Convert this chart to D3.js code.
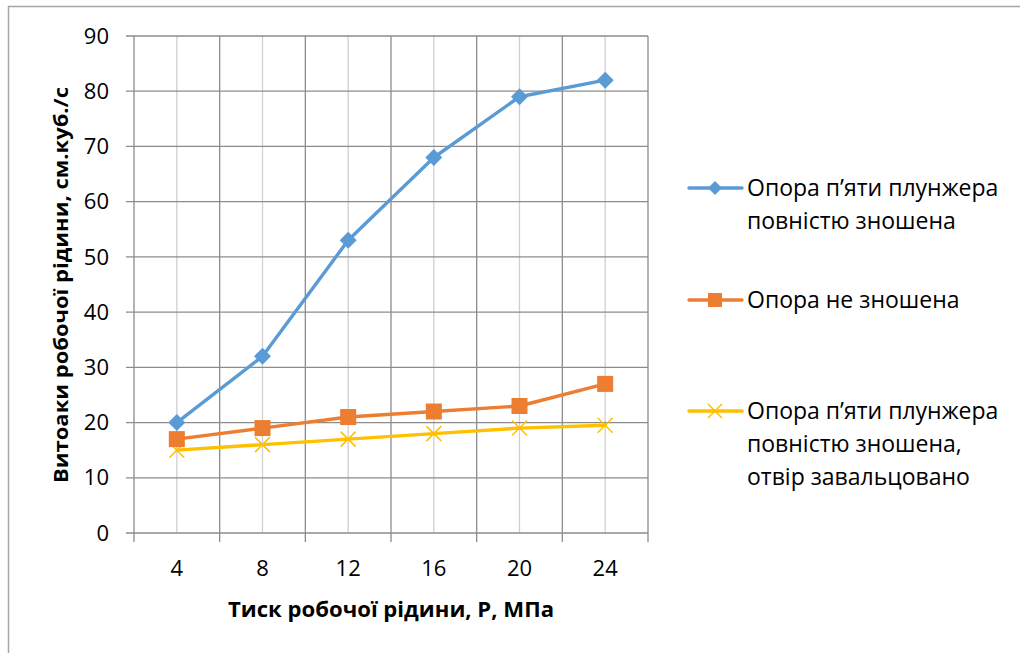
<!DOCTYPE html>
<html><head><meta charset="utf-8">
<script src="https://cdn.jsdelivr.net/npm/d3@7"></script>
<style>html,body{margin:0;padding:0;background:#fff}svg{display:block}</style>
</head><body>
<script>
const categories = ["4","8","12","16","20","24"];
const seriesNames = [
  ["Опора п’яти плунжера","повністю зношена"],
  ["Опора не зношена"],
  ["Опора п’яти плунжера","повністю зношена,","отвір завальцовано"]
];
const worn = [20, 32, 53, 68, 79, 82];
const notWorn = [17, 19, 21, 22, 23, 27];
const rolled = [15, 16, 17, 18, 19, 19.5];
const yTicks = [0,10,20,30,40,50,60,70,80,90];
const xTitle = "Тиск робочої рідини, Р, МПа";
const yTitle = "Витоаки робочої рідини, см.куб./с";
const colors = ["#5B9BD5","#ED7D31","#FFC000"];
const markers = ["diamond","square","x"];
const series = [worn, notWorn, rolled];

const W=1020,H=653;
const font = "'Open Sans', sans-serif";
const svg = d3.select("body").append("svg").attr("width",W).attr("height",H);
svg.append("rect").attr("x",8.5).attr("y",6.5).attr("width",W).attr("height",H).attr("fill","#fff").attr("stroke","#a6a6a6").attr("stroke-width",1.5);

const L=134,R=648,T=36,B=533;
const x = d3.scaleBand().domain(categories).range([L,R]).padding(0);
const y = d3.scaleLinear().domain([0,90]).range([B,T]);

const g = svg.append("g");
g.selectAll(".vminor").data(categories).enter().append("line")
  .attr("x1",d=>x(d)+x.bandwidth()/2).attr("x2",d=>x(d)+x.bandwidth()/2)
  .attr("y1",T).attr("y2",B).attr("stroke","#d0d0d0").attr("stroke-width",1.3);
g.selectAll(".hgrid").data(yTicks.slice(1)).enter().append("line")
  .attr("x1",L-8).attr("x2",R).attr("y1",d=>y(d)).attr("y2",d=>y(d))
  .attr("stroke","#8c8c8c").attr("stroke-width",1.3);
const bounds = categories.map(d=>x(d)).concat([R]);
g.selectAll(".vmajor").data(bounds).enter().append("line")
  .attr("x1",d=>d).attr("x2",d=>d).attr("y1",T).attr("y2",B+9)
  .attr("stroke","#8c8c8c").attr("stroke-width",1.3);
g.append("line").attr("x1",L-8).attr("x2",R).attr("y1",B).attr("y2",B).attr("stroke","#8c8c8c").attr("stroke-width",1.3);

svg.append("g").selectAll("text").data(yTicks).enter().append("text")
  .attr("x",109).attr("y",d=>y(d)).attr("dy","0.35em").attr("text-anchor","end")
  .attr("font-family",font).attr("font-size",22).attr("fill","#000").text(d=>d);
svg.append("g").selectAll("text").data(categories).enter().append("text")
  .attr("x",d=>x(d)+x.bandwidth()/2).attr("y",568).attr("dy","0.35em").attr("text-anchor","middle")
  .attr("font-family",font).attr("font-size",22).attr("fill","#000").text(d=>d);

svg.append("text").attr("x",(L+R)/2).attr("y",610).attr("dy","0.35em").attr("text-anchor","middle")
  .attr("font-family",font).attr("font-weight","bold").attr("font-size",21)
  .attr("textLength",326).attr("lengthAdjust","spacingAndGlyphs").text(xTitle);
svg.append("text").attr("transform",`translate(61,${(87+483)/2}) rotate(-90)`).attr("dy","0.35em").attr("text-anchor","middle")
  .attr("font-family",font).attr("font-weight","bold").attr("font-size",20)
  .attr("textLength",396).attr("lengthAdjust","spacingAndGlyphs").text(yTitle);

function drawMarker(sel, type, color, s){
  if(type==="diamond"){
    sel.append("path").attr("d",`M0,${-s}L${s},0L0,${s}L${-s},0Z`).attr("fill",color);
  } else if(type==="square"){
    sel.append("rect").attr("x",-s).attr("y",-s).attr("width",2*s).attr("height",2*s).attr("fill",color);
  } else {
    sel.append("path").attr("d",`M${-s},${-s}L${s},${s}M${-s},${s}L${s},${-s}`).attr("stroke",color).attr("stroke-width",1.5).attr("fill","none");
  }
}

const line = d3.line().x((d,i)=>x(categories[i])+x.bandwidth()/2).y(d=>y(d));
[2,1,0].forEach(si=>{
  const data=series[si];
  svg.append("path").datum(data).attr("d",line).attr("fill","none").attr("stroke",colors[si]).attr("stroke-width",3.4).attr("stroke-linejoin","round").attr("stroke-linecap","round");
  data.forEach((v,i)=>{
    const m=svg.append("g").attr("transform",`translate(${x(categories[i])+x.bandwidth()/2},${y(v)})`);
    drawMarker(m,markers[si],colors[si], si===0?8.5:(si===1?8:7.5));
  });
});

const legY=[188,300,411];
const lh=33;
seriesNames.forEach((names,si)=>{
  const lg=svg.append("g").attr("transform",`translate(0,${legY[si]})`);
  lg.append("line").attr("x1",689).attr("x2",742).attr("y1",0).attr("y2",0).attr("stroke",colors[si]).attr("stroke-width",3.4).attr("stroke-linecap","round");
  const m=lg.append("g").attr("transform","translate(715,0)");
  drawMarker(m,markers[si],colors[si],7);
  names.forEach((n,j)=>{
    lg.append("text").attr("x",747).attr("y",j*lh).attr("dy","0.35em").attr("font-family",font).attr("font-size",23).attr("fill","#000").text(n);
  });
});
</script>
</body></html>
